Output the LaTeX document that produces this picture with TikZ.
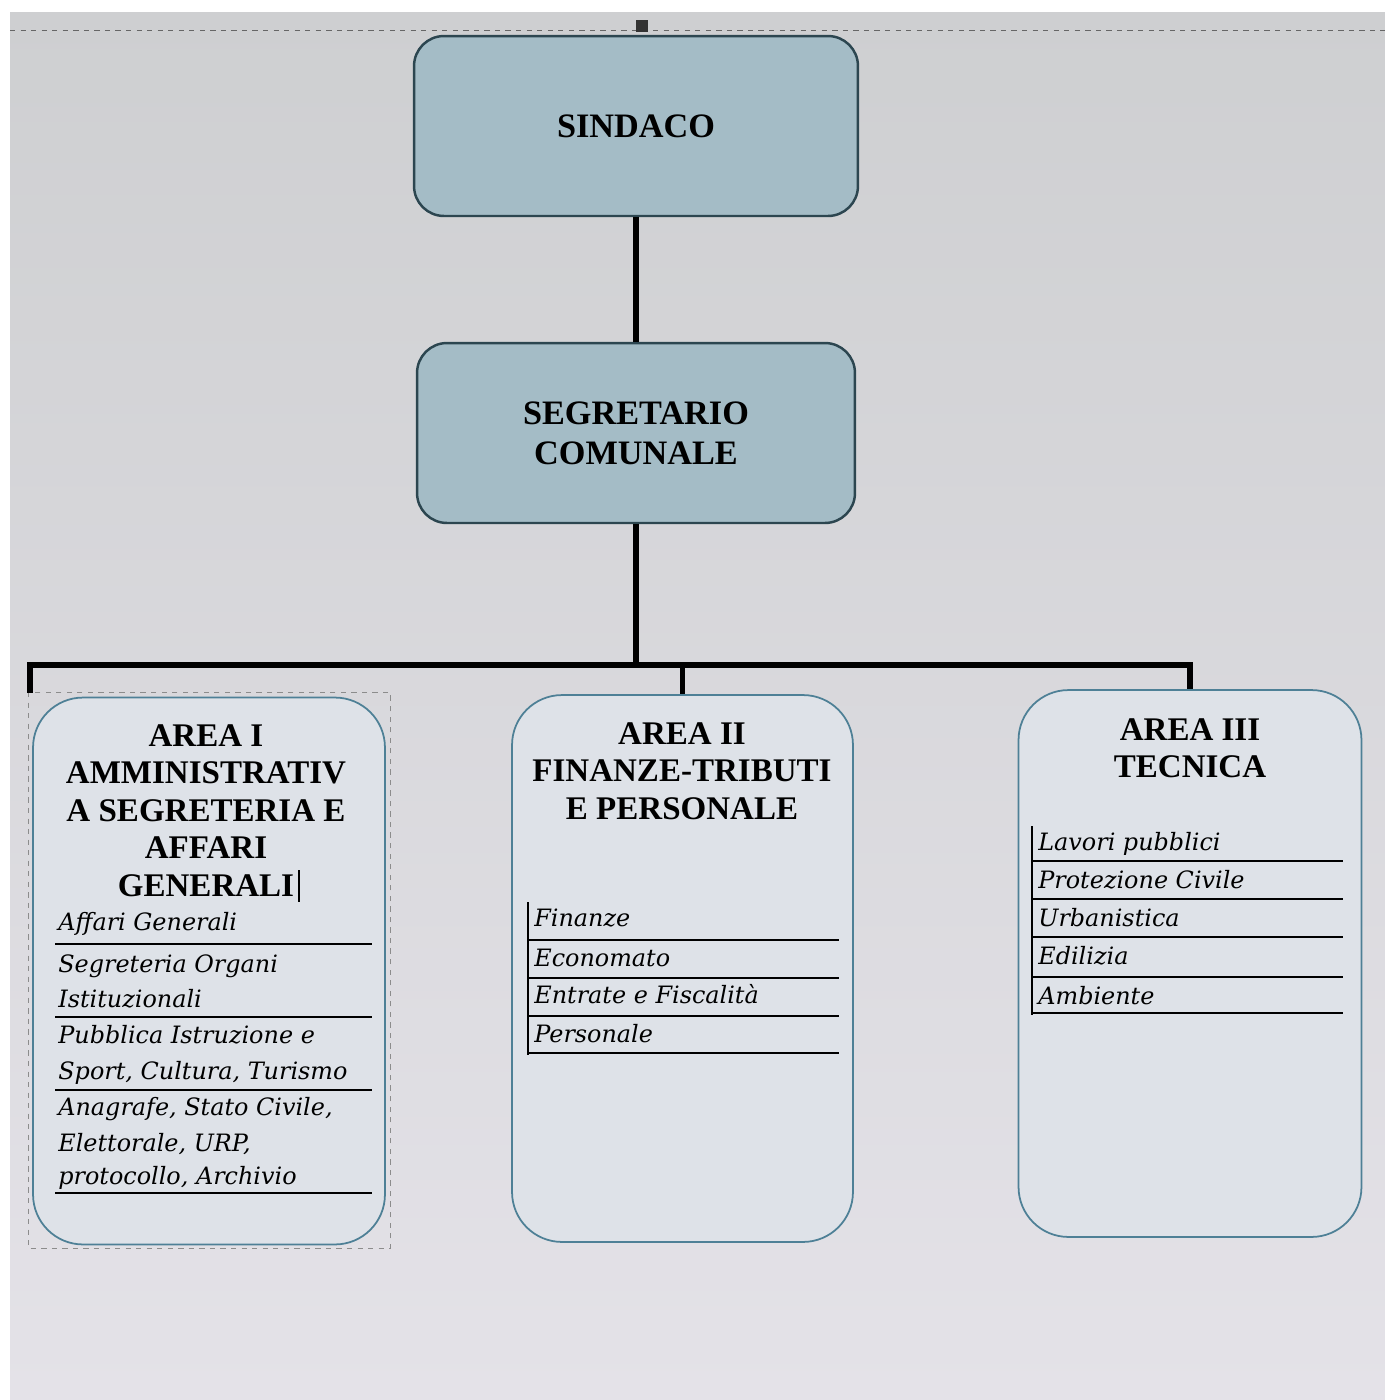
\documentclass[tikz,border=0pt]{standalone}
\usepackage{fontspec}
\setmainfont{Liberation Serif}
\newfontfamily\listfont{DejaVu Serif}
\usetikzlibrary{positioning}

\definecolor{screentop}{RGB}{206,207,209}
\definecolor{screenbot}{RGB}{228,226,232}
\definecolor{topfill}{RGB}{164,188,198}
\definecolor{topline}{RGB}{44,70,80}
\definecolor{areafill}{RGB}{222,226,232}
\definecolor{arealine}{RGB}{78,128,150}

\tikzset{
  topbox/.style={draw=topline, fill=topfill, line width=1.4pt, rounded corners=0.6cm,
    minimum height=3.6cm, font=\bfseries\fontsize{19.5}{22.7}\selectfont, align=center},
  areabox/.style={draw=arealine, fill=areafill, line width=1pt, rounded corners=1cm,
    minimum height=10.94cm},
  areatitle/.style={font=\bfseries\fontsize{18.8}{21.4}\selectfont, align=center,
    anchor=north, inner sep=0pt},
  listitem/.style={font=\listfont\itshape\fontsize{13.6}{17}\selectfont, anchor=base west, inner sep=0pt},
  link/.style={line width=3.4pt, black}
}

\begin{document}
\begin{tikzpicture}[x=0.02cm, y=-0.02cm]
  \useasboundingbox (0,0) rectangle (1385,1400);
  % screen background
  \fill[white] (0,0) rectangle (1385,1400);
  \shade[top color=screentop, bottom color=screenbot] (10,12) rectangle (1385,1400);
  \draw[dashed, black!60] (10,30) -- (1385,30);
  \fill[black!80] (636,20) rectangle (648,32);

  % top boxes
  \node[topbox, minimum width=8.88cm] (sindaco) at (636,126) {SINDACO};
  \node[topbox, minimum width=8.76cm] (segretario) at (636,433) {SEGRETARIO\\COMUNALE};

  % area boxes
  \draw[dashed, black!45] (28,692) rectangle (390,1248);
  \node[areabox, minimum width=7.04cm] (areaI) at (209,971) {};
  \node[areabox, minimum width=6.82cm] (areaII) at (682.5,968.5) {};
  \node[areabox, minimum width=6.86cm] (areaIII) at (1190,963.5) {};

  \node[areatitle] (titleI) at (206,724) {AREA I\\AMMINISTRATIV\\A SEGRETERIA E\\AFFARI\\GENERALI};
  \draw[black, line width=0.6pt] (299,870) -- (299,902);
  \node[areatitle] (titleII) at (682,722) {AREA II\\FINANZE-TRIBUTI\\E PERSONALE};
  \node[areatitle] (titleIII) at (1190,718) {AREA III\\TECNICA};

  % connectors
  \coordinate (bus) at (636,665);
  \coordinate (stubI) at (30,693);
  \draw[link] (sindaco) -- (segretario);
  \draw[link] (segretario.south) -- (bus);
  \draw[link] (stubI) |- (bus) -| (areaIII.north);
  \draw[link] (bus -| areaII.north) -- (areaII.north);

  % list area I
  \foreach \yy/\txt in {930/{Affari Generali}, 972/{Segreteria Organi}, 1007/{Istituzionali},
      1043/{Pubblica Istruzione e}, 1079/{Sport, Cultura, Turismo}, 1115/{Anagrafe, Stato Civile,},
      1151/{Elettorale, URP,}, 1184/{protocollo, Archivio}}
    \node[listitem] at (58,\yy) {\txt};
  \foreach \yy in {944,1017,1090,1193}
    \draw[black, line width=0.8pt] (55,\yy) -- (372,\yy);

  % list area II
  \draw[black, line width=0.8pt] (528,902) -- (528,1055);
  \foreach \yy/\txt in {926/Finanze, 966/Economato, 1003/{Entrate e Fiscalità}, 1042/Personale}
    \node[listitem] at (534,\yy) {\txt};
  \foreach \yy in {940,978,1016,1053}
    \draw[black, line width=0.8pt] (528,\yy) -- (839,\yy);

  % list area III
  \draw[black, line width=0.8pt] (1032,826) -- (1032,1015);
  \foreach \yy/\txt in {850/{Lavori pubblici}, 888/{Protezione Civile}, 926/Urbanistica, 964/Edilizia, 1004/Ambiente}
    \node[listitem] at (1038,\yy) {\txt};
  \foreach \yy in {861,899,937,977,1013}
    \draw[black, line width=0.8pt] (1032,\yy) -- (1343,\yy);
\end{tikzpicture}
\end{document}
